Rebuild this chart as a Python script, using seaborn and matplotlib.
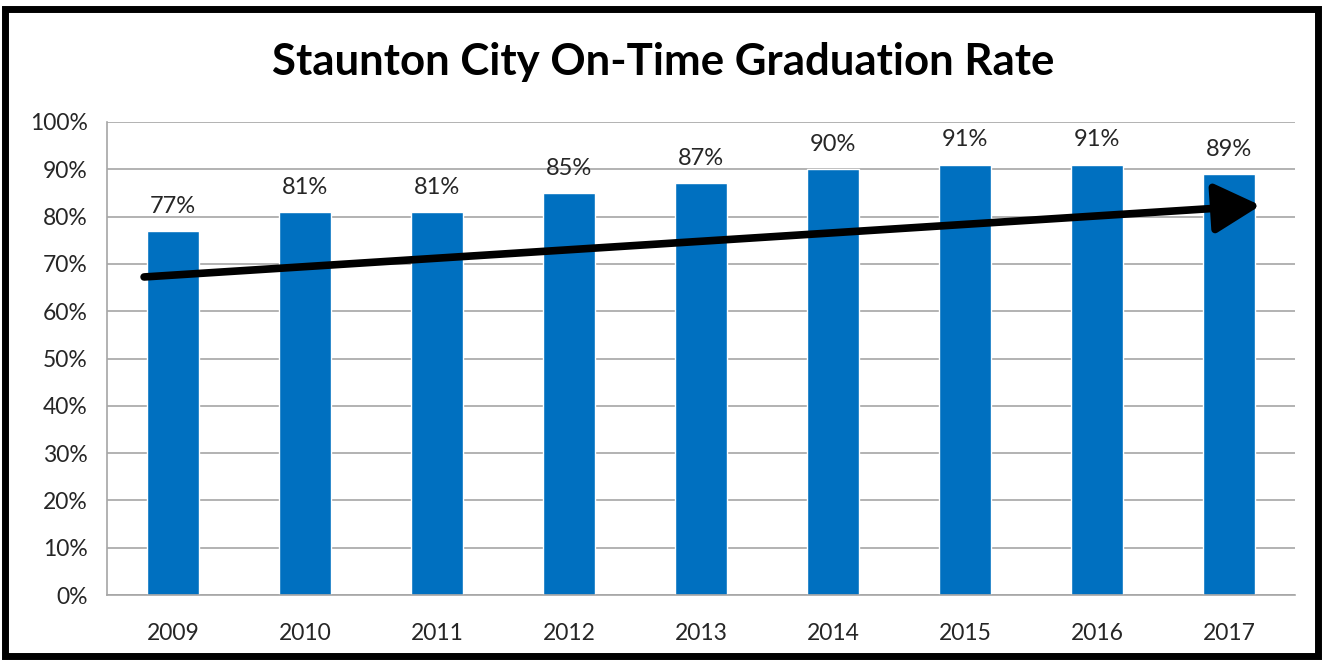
import pandas as pd
import seaborn as sns
import matplotlib.pyplot as plt
from matplotlib.patches import Rectangle, FancyArrowPatch
from matplotlib.ticker import PercentFormatter

years = ['2009', '2010', '2011', '2012', '2013', '2014', '2015', '2016', '2017']
rates = [77, 81, 81, 85, 87, 90, 91, 91, 89]
trend_start = (-0.24, 67.2)
trend_end = (8.26, 82.4)

df = pd.DataFrame({'year': years, 'rate': rates})

sns.set_style('white')
plt.rcParams['font.family'] = ['Lato', 'DejaVu Sans']

fig = plt.figure(figsize=(13.26, 6.6), dpi=100)
ax = fig.add_axes([107 / 1326, 1 - 595 / 660, (1295 - 107) / 1326, (595 - 122) / 660])

sns.barplot(data=df, x='year', y='rate', color='#0070C0', saturation=1,
            width=0.39, ax=ax, zorder=2)

ax.set_ylim(0, 100)
ax.set_xlim(-0.5, 8.5)
ax.set_yticks(range(0, 101, 10))
ax.yaxis.set_major_formatter(PercentFormatter(decimals=0))
ax.grid(axis='y', color='#A6A6A6', linewidth=1.2, zorder=0)
ax.set_axisbelow(True)
for s in ['top', 'right']:
    ax.spines[s].set_visible(False)
for s in ['left', 'bottom']:
    ax.spines[s].set_color('#A6A6A6')
    ax.spines[s].set_linewidth(1.2)
ax.set_xlabel('')
ax.set_ylabel('')
ax.tick_params(axis='both', length=0, labelsize=16.5, colors='#262626', pad=14)
ax.tick_params(axis='x', pad=20)

for i, v in enumerate(rates):
    ax.text(i, v + 3.0, f'{v}%', ha='center', va='bottom', fontsize=17, color='#262626')

arrow = FancyArrowPatch(trend_start, trend_end, arrowstyle='-|>,head_length=1.75,head_width=0.95',
                        mutation_scale=16, color='black', linewidth=5.5, zorder=5)
ax.add_patch(arrow)

fig.text(0.5, 1 - 62 / 660, 'Staunton City On-Time Graduation Rate', ha='center', va='center',
         fontsize=31.5, fontweight='bold', color='black')

fig.patches.append(Rectangle((5 / 1326, 1 - 656 / 660), 1313 / 1326, 647 / 660,
                             transform=fig.transFigure, fill=False, edgecolor='black',
                             linewidth=5))

fig.savefig('out.png', dpi=100)
